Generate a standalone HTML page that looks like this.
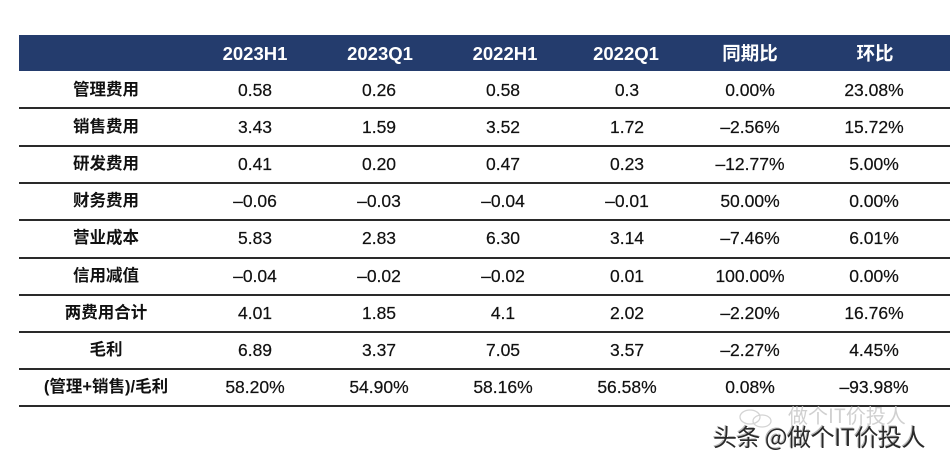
<!DOCTYPE html>
<html>
<head>
<meta charset="utf-8">
<style>
html,body{margin:0;padding:0;background:#fff;}
body{width:950px;height:465px;position:relative;overflow:hidden;font-family:"Liberation Sans","Noto Sans CJK SC",sans-serif;}
.hdr{position:absolute;left:19px;top:35px;width:931px;height:36px;background:#243c6d;}
.h{position:absolute;top:35px;height:36px;line-height:37px;color:#fff;font-weight:bold;font-size:18.5px;text-align:center;width:140px;margin-left:-70px;}
.line{position:absolute;left:19px;width:931px;height:2px;background:#2a2a2a;}
.c{position:absolute;height:37px;line-height:37px;font-size:17.5px;color:#111;text-align:center;width:140px;margin-left:-70px;-webkit-text-stroke:0.2px #111;}
.l{font-weight:bold;font-size:16.5px;width:200px;margin-left:-100px;-webkit-text-stroke:0;}
.wm{position:absolute;left:713px;top:422px;font-family:"Noto Sans CJK SC","WenQuanYi Zen Hei",sans-serif;font-size:24px;color:#2a2a2a;line-height:28px;text-shadow:1px 1px 0 #fff,-1px -1px 0 #bbb;white-space:nowrap;letter-spacing:-0.5px;}
.wm2{position:absolute;left:788px;top:403px;font-family:"Noto Sans CJK SC",sans-serif;font-size:20px;color:#d0d0d0;line-height:24px;white-space:nowrap;}
</style>
</head>
<body>
<div class="hdr"></div>
<div class="h" style="left:255px">2023H1</div>
<div class="h" style="left:380px">2023Q1</div>
<div class="h" style="left:505px">2022H1</div>
<div class="h" style="left:626px">2022Q1</div>
<div class="h" style="left:750px">同期比</div>
<div class="h" style="left:875px">环比</div>

<div class="line" style="top:107px"></div>
<div class="line" style="top:145px"></div>
<div class="line" style="top:182px"></div>
<div class="line" style="top:219px"></div>
<div class="line" style="top:257px"></div>
<div class="line" style="top:294px"></div>
<div class="line" style="top:331px"></div>
<div class="line" style="top:368px"></div>
<div class="line" style="top:405px"></div>

<!-- row 1 -->
<div class="c l" style="left:106px;top:72px">管理费用</div>
<div class="c" style="left:255px;top:72px">0.58</div>
<div class="c" style="left:379px;top:72px">0.26</div>
<div class="c" style="left:503px;top:72px">0.58</div>
<div class="c" style="left:627px;top:72px">0.3</div>
<div class="c" style="left:750px;top:72px">0.00%</div>
<div class="c" style="left:874px;top:72px">23.08%</div>
<!-- row 2 -->
<div class="c l" style="left:106px;top:109px">销售费用</div>
<div class="c" style="left:255px;top:109px">3.43</div>
<div class="c" style="left:379px;top:109px">1.59</div>
<div class="c" style="left:503px;top:109px">3.52</div>
<div class="c" style="left:627px;top:109px">1.72</div>
<div class="c" style="left:750px;top:109px">–2.56%</div>
<div class="c" style="left:874px;top:109px">15.72%</div>
<!-- row 3 -->
<div class="c l" style="left:106px;top:146px">研发费用</div>
<div class="c" style="left:255px;top:146px">0.41</div>
<div class="c" style="left:379px;top:146px">0.20</div>
<div class="c" style="left:503px;top:146px">0.47</div>
<div class="c" style="left:627px;top:146px">0.23</div>
<div class="c" style="left:750px;top:146px">–12.77%</div>
<div class="c" style="left:874px;top:146px">5.00%</div>
<!-- row 4 -->
<div class="c l" style="left:106px;top:183px">财务费用</div>
<div class="c" style="left:255px;top:183px">–0.06</div>
<div class="c" style="left:379px;top:183px">–0.03</div>
<div class="c" style="left:503px;top:183px">–0.04</div>
<div class="c" style="left:627px;top:183px">–0.01</div>
<div class="c" style="left:750px;top:183px">50.00%</div>
<div class="c" style="left:874px;top:183px">0.00%</div>
<!-- row 5 -->
<div class="c l" style="left:106px;top:220px">营业成本</div>
<div class="c" style="left:255px;top:220px">5.83</div>
<div class="c" style="left:379px;top:220px">2.83</div>
<div class="c" style="left:503px;top:220px">6.30</div>
<div class="c" style="left:627px;top:220px">3.14</div>
<div class="c" style="left:750px;top:220px">–7.46%</div>
<div class="c" style="left:874px;top:220px">6.01%</div>
<!-- row 6 -->
<div class="c l" style="left:106px;top:258px">信用减值</div>
<div class="c" style="left:255px;top:258px">–0.04</div>
<div class="c" style="left:379px;top:258px">–0.02</div>
<div class="c" style="left:503px;top:258px">–0.02</div>
<div class="c" style="left:627px;top:258px">0.01</div>
<div class="c" style="left:750px;top:258px">100.00%</div>
<div class="c" style="left:874px;top:258px">0.00%</div>
<!-- row 7 -->
<div class="c l" style="left:106px;top:295px">两费用合计</div>
<div class="c" style="left:255px;top:295px">4.01</div>
<div class="c" style="left:379px;top:295px">1.85</div>
<div class="c" style="left:503px;top:295px">4.1</div>
<div class="c" style="left:627px;top:295px">2.02</div>
<div class="c" style="left:750px;top:295px">–2.20%</div>
<div class="c" style="left:874px;top:295px">16.76%</div>
<!-- row 8 -->
<div class="c l" style="left:106px;top:332px">毛利</div>
<div class="c" style="left:255px;top:332px">6.89</div>
<div class="c" style="left:379px;top:332px">3.37</div>
<div class="c" style="left:503px;top:332px">7.05</div>
<div class="c" style="left:627px;top:332px">3.57</div>
<div class="c" style="left:750px;top:332px">–2.27%</div>
<div class="c" style="left:874px;top:332px">4.45%</div>
<!-- row 9 -->
<div class="c l" style="left:106px;top:369px">(管理+销售)/毛利</div>
<div class="c" style="left:255px;top:369px">58.20%</div>
<div class="c" style="left:379px;top:369px">54.90%</div>
<div class="c" style="left:503px;top:369px">58.16%</div>
<div class="c" style="left:627px;top:369px">56.58%</div>
<div class="c" style="left:750px;top:369px">0.08%</div>
<div class="c" style="left:874px;top:369px">–93.98%</div>

<svg style="position:absolute;left:738px;top:408px" width="36" height="22" viewBox="0 0 36 22">
<ellipse cx="12" cy="9" rx="10" ry="7" fill="none" stroke="#d4d4d4" stroke-width="1.3"/>
<ellipse cx="24" cy="13" rx="9" ry="6" fill="none" stroke="#d4d4d4" stroke-width="1.3"/>
</svg>
<div class="wm2">做个IT价投人</div>
<div class="wm">头条 @做个IT价投人</div>
</body>
</html>
